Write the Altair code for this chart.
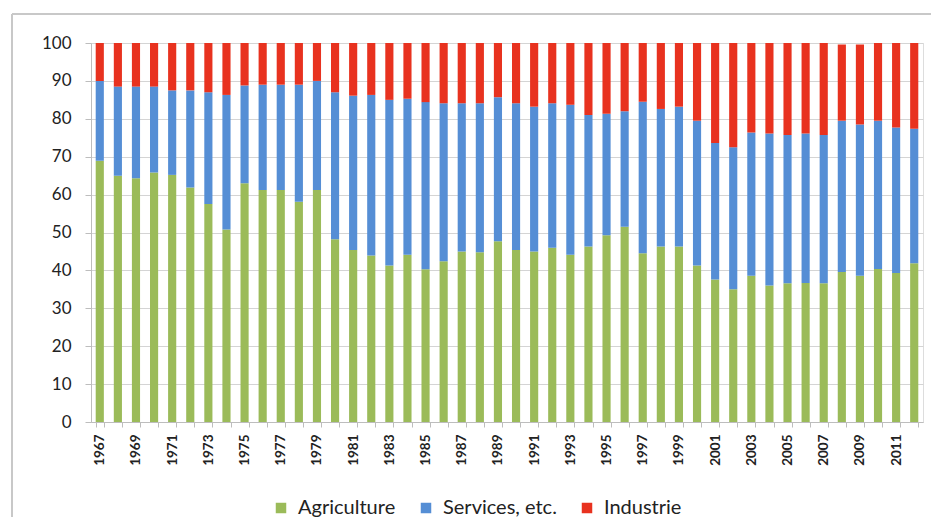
import altair as alt
import pandas as pd

years = list(range(1967, 2013))
agriculture = [68.9, 65.0, 64.3, 65.8, 65.2, 61.9, 57.5, 50.8, 63.0, 61.2, 61.2, 58.1,
               61.2, 48.2, 45.4, 43.9, 41.3, 44.1, 40.3, 42.4, 45.0, 44.8, 47.7,
               45.4, 45.0, 46.0, 44.1, 46.3, 49.3, 51.5, 44.5, 46.3, 46.3, 41.3, 37.6,
               35.0, 38.6, 36.0, 36.6, 36.7, 36.6, 39.6, 38.6, 40.4, 39.3, 41.9]
# cumulative top of the services segment (agriculture + services)
services_top = [90.0, 88.5, 88.5, 88.5, 87.5, 87.5, 87.0, 86.3, 88.8, 89.0, 89.0, 89.0,
                90.0, 87.0, 86.1, 86.3, 85.0, 85.3, 84.4, 84.1, 84.1, 84.1, 85.7,
                84.1, 83.2, 84.1, 83.7, 81.0, 81.3, 82.0, 84.5, 82.6, 83.2, 79.5, 73.6,
                72.5, 76.4, 76.1, 75.7, 76.1, 75.7, 79.5, 78.5, 79.5, 77.7, 77.4]
totals = [100.0] * 41 + [99.6, 99.6, 100.0, 100.0, 100.0]
sectors = ["Agriculture", "Services, etc.", "Industrie"]
colors = ["#9BBB59", "#558ED5", "#E8321F"]

rows = []
for i, y in enumerate(years):
    a = agriculture[i]
    s = services_top[i] - a
    ind = totals[i] - services_top[i]
    for k, (name, v) in enumerate(zip(sectors, [a, s, ind])):
        rows.append({"year": y, "sector": name, "value": round(v, 2), "order": k})
df = pd.DataFrame(rows)

font = "Lato"

bars = alt.Chart(df).mark_bar().encode(
    x=alt.X("year:O",
            scale=alt.Scale(paddingInner=0.55, paddingOuter=0.26),
            axis=alt.Axis(title=None, labelAngle=270, labelFontSize=13.5, labelFontWeight="bold",
                          labelColor="#222222", labelFont=font, labelPadding=7,
                          labelExpr="datum.value % 2 == 1 ? datum.label : ''",
                          tickBand="extent", tickSize=5, tickColor="#bdbdbd",
                          domainColor="#bdbdbd", labelBaseline="middle")),
    y=alt.Y("value:Q", stack="zero",
            scale=alt.Scale(domain=[0, 100], nice=False),
            axis=alt.Axis(title=None, values=list(range(0, 101, 10)), labelFontSize=17,
                          labelColor="#222222", labelFont=font, labelPadding=14,
                          tickSize=6, tickColor="#bdbdbd", domainColor="#bdbdbd",
                          gridColor="#d4d4d4", gridWidth=1)),
    color=alt.Color("sector:N",
                    scale=alt.Scale(domain=sectors, range=colors),
                    sort=sectors,
                    legend=alt.Legend(title=None, orient="none", direction="horizontal",
                                      legendX=180, legendY=455, symbolType="square",
                                      symbolSize=110, symbolStrokeWidth=0,
                                      labelFontSize=20, labelFont=font, labelColor="#222222",
                                      columnPadding=20, labelOffset=7)),
    order=alt.Order("order:Q", sort="ascending"),
)

frame_left = alt.Chart(df).mark_rule(color="#c8c8c8", strokeWidth=2).encode(
    x=alt.value(-79), y=alt.value(-29), y2=alt.value(520))
frame_top = alt.Chart(df).mark_rule(color="#c8c8c8", strokeWidth=2).encode(
    x=alt.value(-79), x2=alt.value(900), y=alt.value(-29))

chart = alt.layer(frame_left, frame_top, bars).properties(
    width=832, height=379,
    autosize=alt.AutoSizeParams(type="none"),
    padding={"left": 83, "top": 35, "right": 8, "bottom": 95},
).configure_view(stroke=None).configure(background="white")

chart.save("out.html", embed_options={"renderer": "svg", "actions": False})
